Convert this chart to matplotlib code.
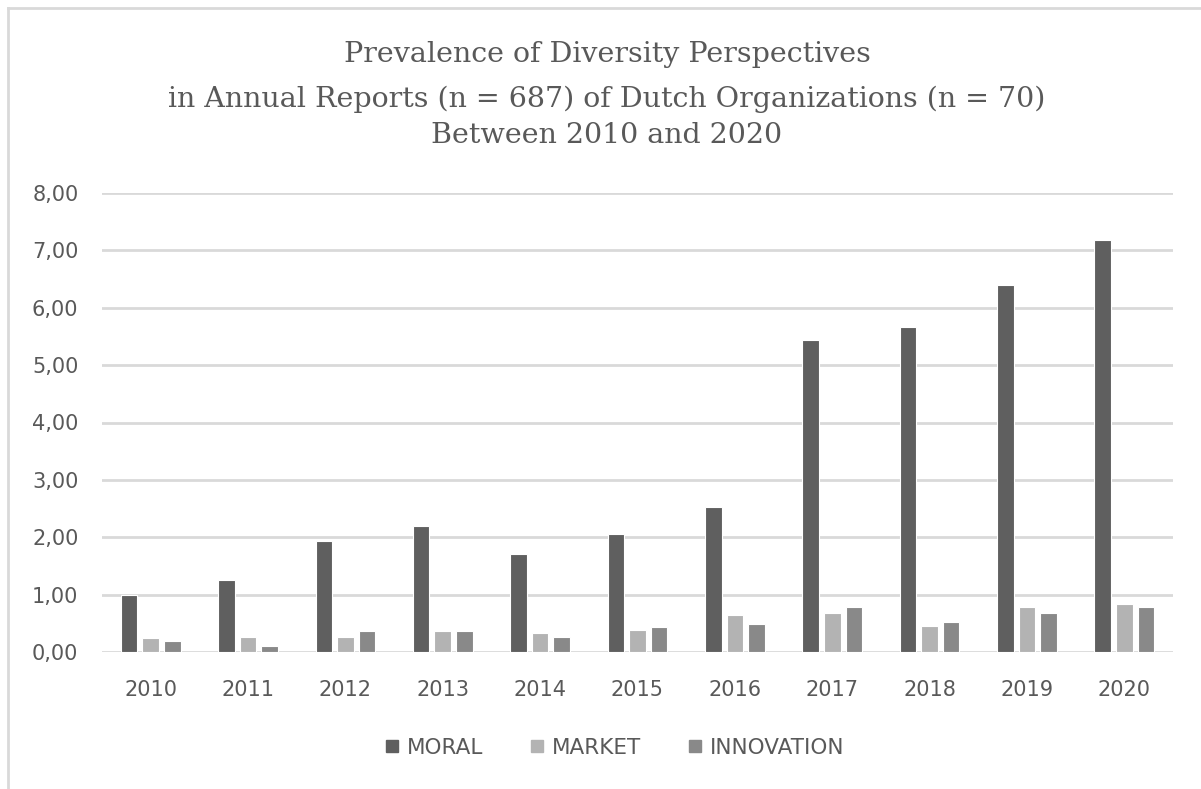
import numpy as np
import matplotlib
matplotlib.use("Agg")
import matplotlib.pyplot as plt
from matplotlib.ticker import FuncFormatter
from matplotlib.lines import Line2D

years = ["2010", "2011", "2012", "2013", "2014", "2015",
         "2016", "2017", "2018", "2019", "2020"]
moral = [0.99, 1.25, 1.94, 2.19, 1.70, 2.05, 2.53, 5.44, 5.67, 6.40, 7.18]
market = [0.24, 0.27, 0.27, 0.36, 0.33, 0.38, 0.65, 0.68, 0.46, 0.78, 0.84]
innovation = [0.19, 0.11, 0.36, 0.36, 0.27, 0.44, 0.49, 0.78, 0.52, 0.68, 0.78]

title_lines = ["Prevalence of Diversity Perspectives",
               "in Annual Reports (n = 687) of Dutch Organizations (n = 70)",
               "Between 2010 and 2020"]

series = [("MORAL", moral, "#5f5f5f"),
          ("MARKET", market, "#b3b3b3"),
          ("INNOVATION", innovation, "#898989")]

txt = "#595959"
W, H = 1201, 789
fig = plt.figure(figsize=(W / 100, H / 100), dpi=100)
ax = fig.add_axes([102 / W, 1 - 652 / H, (1173 - 102) / W, (652 - 193) / H])

x = np.arange(len(years))
w = 0.17
pitch = 0.222
for i, (name, vals, col) in enumerate(series):
    ax.bar(x + (i - 1) * pitch, vals, width=w, color=col, edgecolor="white",
           linewidth=0.8, label=name, zorder=3)

ax.set_xlim(-0.5, len(years) - 0.5)
ax.set_ylim(0, 8)
ax.set_yticks(np.arange(0, 9, 1))
ax.yaxis.set_major_formatter(FuncFormatter(lambda v, p: f"{v:.2f}".replace(".", ",")))
ax.set_xticks(x)
ax.set_xticklabels(years)
ax.grid(axis="y", color="#d9d9d9", linewidth=2, zorder=0)
for s in ax.spines.values():
    s.set_visible(False)
ax.tick_params(length=0, labelsize=15, colors=txt)
ax.tick_params(axis="x", pad=20)
ax.tick_params(axis="y", pad=17)
for lab in ax.get_xticklabels() + ax.get_yticklabels():
    lab.set_fontfamily("DejaVu Sans")

# title, one line at a time (baselines)
for line, yb in zip(title_lines, [62, 107, 143]):
    fig.text(607 / W, 1 - yb / H, line, ha="center", va="baseline",
             fontsize=20.5, color=txt, family="DejaVu Serif")

handles = [Line2D([], [], marker="s", linestyle="none", markersize=9,
                  markerfacecolor=c, markeredgecolor=c) for _, _, c in series]
fig.legend(handles, [n for n, _, _ in series], loc="center",
           bbox_to_anchor=(613 / W, 1 - 748 / H), ncol=3, frameon=False,
           prop={"family": "DejaVu Sans", "size": 15.5}, labelcolor=txt,
           handletextpad=0.2, columnspacing=2.0, handlelength=1.0)

# outer chart frame (only top and left edges visible in the crop)
fig.add_artist(Line2D([8 / W, 8 / W], [0, 1 - 8 / H], color="#d9d9d9",
                      linewidth=2, transform=fig.transFigure))
fig.add_artist(Line2D([8 / W, 1], [1 - 8 / H, 1 - 8 / H], color="#d9d9d9",
                      linewidth=2, transform=fig.transFigure))

fig.savefig("out.png", dpi=100)
